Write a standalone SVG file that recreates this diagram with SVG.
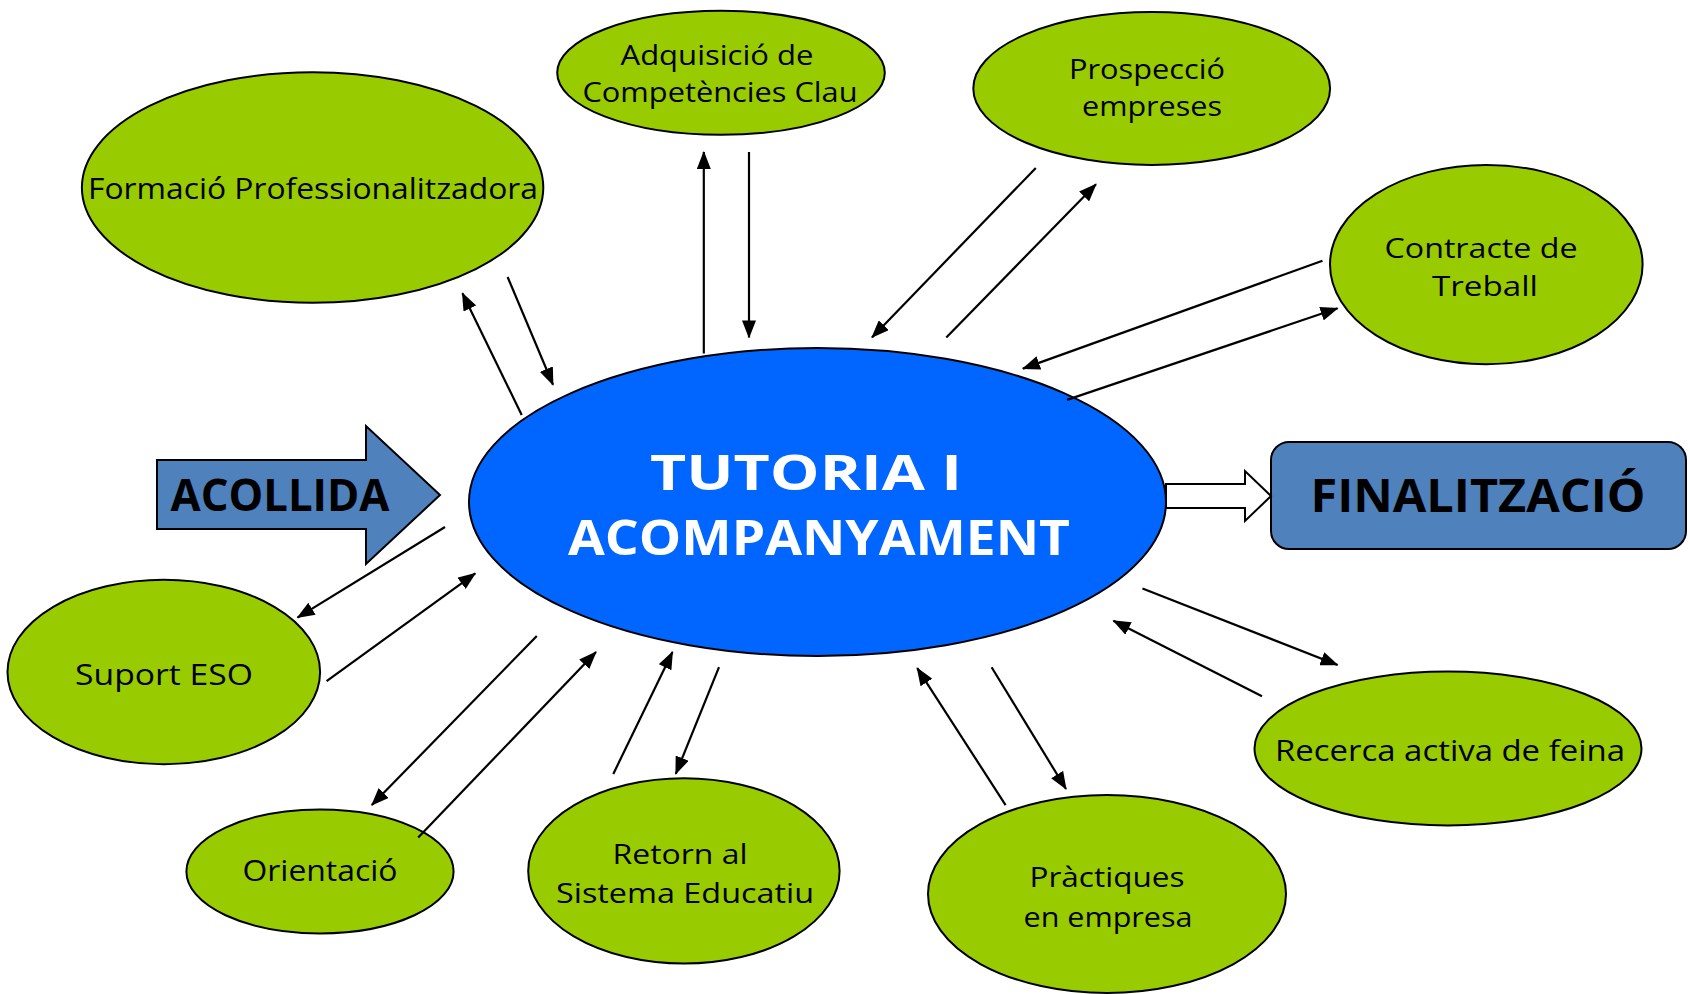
<svg xmlns="http://www.w3.org/2000/svg" width="1690" height="994" viewBox="0 0 1690 994">
<style>
.g{fill:#99CC00;stroke:#000;stroke-width:2}
.lbl{font-family:"Comic Sans MS","Open Sans",sans-serif;font-size:30px;fill:#000;text-anchor:middle}
.lbl2{font-size:27px}
.big{font-family:"Comic Sans MS","Open Sans",sans-serif;font-weight:bold;text-anchor:middle}
.c line{stroke:#000;stroke-width:2.2;marker-end:url(#ah)}
</style>
<defs>
<marker id="ah" markerUnits="userSpaceOnUse" markerWidth="18" markerHeight="14" refX="17" refY="7" orient="auto">
<path d="M0,0 L18,7 L0,14 z" fill="#000"/>
</marker>
</defs>
<rect width="1690" height="994" fill="#fff"/>

<g id="acollida">
<polygon points="157,460 366,460 366,426 440,495 366,564 366,529 157,529" fill="#4F81BD" stroke="#000" stroke-width="2"/>
<text class="big" x="280" y="511" font-size="44" textLength="219" lengthAdjust="spacingAndGlyphs">ACOLLIDA</text>
</g>

<g id="finalitzacio">
<rect x="1271" y="442" width="415" height="107" rx="18" fill="#4F81BD" stroke="#000" stroke-width="2"/>
<text class="big" x="1478" y="512" font-size="46" textLength="335" lengthAdjust="spacingAndGlyphs">FINALITZACIÓ</text>
</g>

<g id="final-arrow">
<polygon points="1166,484 1245,484 1245,471 1271,496 1245,521 1245,508 1166,508" fill="#fff" stroke="#000" stroke-width="2"/>
</g>

<g id="tutoria">
<ellipse cx="817.5" cy="502" rx="348.5" ry="154" fill="#0066FF" stroke="#000" stroke-width="2"/>
<text class="big" x="806" y="490" font-size="48" fill="#fff" textLength="312" lengthAdjust="spacingAndGlyphs">TUTORIA I</text>
<text class="big" x="819" y="555" font-size="48" fill="#fff" textLength="502" lengthAdjust="spacingAndGlyphs">ACOMPANYAMENT</text>
</g>

<g id="formacio">
<ellipse class="g" cx="312.6" cy="187.5" rx="230.7" ry="115.3"/>
<text class="lbl" x="313" y="199" textLength="450" lengthAdjust="spacingAndGlyphs">Formació Professionalitzadora</text>
</g>

<g id="adquisicio">
<ellipse class="g" cx="721" cy="72.8" rx="163.8" ry="62"/>
<text class="lbl lbl2" x="717" y="65" textLength="193" lengthAdjust="spacingAndGlyphs">Adquisició de</text>
<text class="lbl lbl2" x="720" y="102" textLength="275" lengthAdjust="spacingAndGlyphs">Competències Clau</text>
</g>

<g id="prospeccio">
<ellipse class="g" cx="1151.7" cy="88.4" rx="178.4" ry="76.5"/>
<text class="lbl lbl2" x="1147" y="79" textLength="156" lengthAdjust="spacingAndGlyphs">Prospecció</text>
<text class="lbl lbl2" x="1152" y="116" textLength="140" lengthAdjust="spacingAndGlyphs">empreses</text>
</g>

<g id="contracte">
<ellipse class="g" cx="1486.3" cy="264.6" rx="156.3" ry="99.7"/>
<text class="lbl lbl2" x="1481" y="258" textLength="193" lengthAdjust="spacingAndGlyphs">Contracte de</text>
<text class="lbl lbl2" x="1485" y="296" textLength="106" lengthAdjust="spacingAndGlyphs">Treball</text>
</g>

<g id="suport">
<ellipse class="g" cx="163.8" cy="672" rx="156.3" ry="92.2"/>
<text class="lbl" x="164" y="685" textLength="178" lengthAdjust="spacingAndGlyphs">Suport ESO</text>
</g>

<g id="orientacio">
<ellipse class="g" cx="320" cy="871.4" rx="133.6" ry="62"/>
<text class="lbl" x="320" y="881" textLength="155" lengthAdjust="spacingAndGlyphs">Orientació</text>
</g>

<g id="retorn">
<ellipse class="g" cx="683.9" cy="870.9" rx="155.7" ry="92.7"/>
<text class="lbl lbl2" x="680" y="864" textLength="135" lengthAdjust="spacingAndGlyphs">Retorn al</text>
<text class="lbl lbl2" x="685" y="903" textLength="258" lengthAdjust="spacingAndGlyphs">Sistema Educatiu</text>
</g>

<g id="practiques">
<ellipse class="g" cx="1107" cy="894" rx="179" ry="99"/>
<text class="lbl lbl2" x="1107" y="887" textLength="155" lengthAdjust="spacingAndGlyphs">Pràctiques</text>
<text class="lbl lbl2" x="1108" y="927" textLength="169" lengthAdjust="spacingAndGlyphs">en empresa</text>
</g>

<g id="recerca">
<ellipse class="g" cx="1448" cy="748.5" rx="193.5" ry="77"/>
<text class="lbl" x="1450" y="761" textLength="350" lengthAdjust="spacingAndGlyphs">Recerca activa de feina</text>
</g>

<g id="connectors" class="c">
<line x1="521.7" y1="415" x2="462.4" y2="293.2"/>
<line x1="507.6" y1="277" x2="553" y2="384.8"/>
<line x1="703.8" y1="353.5" x2="703.8" y2="152"/>
<line x1="749" y1="152" x2="749" y2="337.4"/>
<line x1="1035.8" y1="168" x2="872" y2="337.4"/>
<line x1="946.3" y1="337.4" x2="1096" y2="184.3"/>
<line x1="1322.5" y1="260.8" x2="1022.9" y2="368.6"/>
<line x1="1067" y1="399.9" x2="1337.6" y2="308.3"/>
<line x1="445" y1="527" x2="297.5" y2="617.6"/>
<line x1="326.6" y1="681.2" x2="475.3" y2="573.4"/>
<line x1="536.8" y1="636" x2="371.8" y2="805.1"/>
<line x1="418.2" y1="837.5" x2="596" y2="652"/>
<line x1="613.3" y1="773.9" x2="672.5" y2="652"/>
<line x1="719" y1="667.2" x2="675.8" y2="773.9"/>
<line x1="1005.6" y1="805.1" x2="917.2" y2="668.2"/>
<line x1="991.6" y1="667.2" x2="1066" y2="789"/>
<line x1="1142.5" y1="588.5" x2="1337.6" y2="665"/>
<line x1="1262" y1="696.3" x2="1113.4" y2="620.8"/>
</g>
</svg>
